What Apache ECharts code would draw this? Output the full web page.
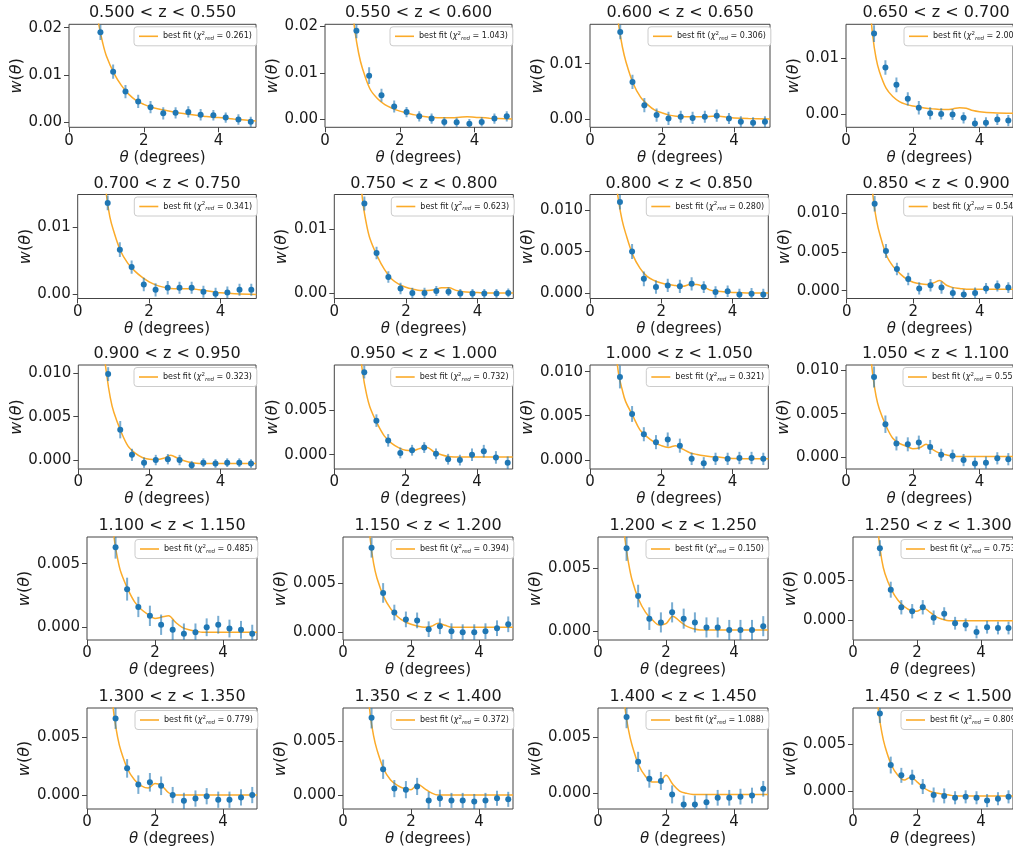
<!DOCTYPE html>
<html>
<head>
<meta charset="utf-8">
<script src="https://cdn.jsdelivr.net/npm/echarts@6/dist/echarts.min.js"></script>
<style>
  html, body { margin: 0; padding: 0; background: #ffffff; }
  #chart { width: 1013px; height: 848px; }
</style>
</head>
<body>
<div id="chart"></div>
<script>
// Redshift slice edges (one panel per slice)
const zEdges = [0.500, 0.550, 0.600, 0.650, 0.700, 0.750, 0.800, 0.850, 0.900, 0.950, 1.000,
                1.050, 1.100, 1.150, 1.200, 1.250, 1.300, 1.350, 1.400, 1.450, 1.500];

// Reduced chi-square of the best fit in each slice
const chi2Red = [0.261, 1.043, 0.306, 2.007, 0.341, 0.623, 0.280, 0.542, 0.323, 0.732,
                 0.321, 0.551, 0.485, 0.394, 0.150, 0.753, 0.779, 0.372, 1.088, 0.809];

// Angular bin centres (degrees)
const thetaBins = [0.84, 1.18, 1.51, 1.85, 2.18, 2.52, 2.85, 3.19, 3.52, 3.86, 4.19, 4.53, 4.86];

// Measured w(theta), one row per slice
const wValues = [
  [0.0190, 0.0107, 0.0065, 0.0044, 0.0032, 0.0019, 0.0020, 0.0022, 0.0016, 0.0015, 0.0010, 0.0006, 0.0001],
  [0.0190, 0.0094, 0.0052, 0.0028, 0.0016, 0.0007, 0.0002, -0.0005, -0.0006, -0.0009, -0.0005, 0.0002, 0.0007],
  [0.0157, 0.0067, 0.0025, 0.0007, 0.0001, 0.0004, 0.0002, 0.0004, 0.0006, 0.0001, -0.0005, -0.0007, -0.0005],
  [0.0144, 0.0083, 0.0052, 0.0027, 0.0011, 0.0001, 0.0000, -0.0001, -0.0007, -0.0017, -0.0016, -0.0010, -0.0012],
  [0.0136, 0.0066, 0.0040, 0.0014, 0.0006, 0.0009, 0.0009, 0.0009, 0.0003, 0.0000, 0.0002, 0.0006, 0.0006],
  [0.0141, 0.0063, 0.0025, 0.0007, 0.0000, 0.0000, 0.0003, 0.0002, -0.0001, -0.0001, -0.0001, -0.0001, 0.0000],
  [0.0110, 0.0050, 0.0017, 0.0007, 0.0009, 0.0008, 0.0011, 0.0007, 0.0001, 0.0002, -0.0002, -0.0001, -0.0002],
  [0.0112, 0.0051, 0.0028, 0.0015, 0.0003, 0.0007, 0.0004, -0.0003, -0.0005, -0.0003, 0.0003, 0.0006, 0.0004],
  [0.0099, 0.0035, 0.0006, -0.0003, 0.0000, 0.0001, 0.0000, -0.0006, -0.0003, -0.0004, -0.0003, -0.0003, -0.0004],
  [0.0092, 0.0038, 0.0016, 0.0002, 0.0005, 0.0008, 0.0001, -0.0005, -0.0006, 0.0000, 0.0004, -0.0003, -0.0009],
  [0.0094, 0.0052, 0.0029, 0.0020, 0.0023, 0.0016, 0.0001, -0.0004, 0.0001, 0.0001, 0.0002, 0.0002, 0.0001],
  [0.0092, 0.0038, 0.0016, 0.0015, 0.0017, 0.0012, 0.0003, 0.0002, -0.0003, -0.0007, -0.0006, -0.0001, -0.0002],
  [0.0063, 0.0030, 0.0016, 0.0009, 0.0002, -0.0002, -0.0005, -0.0004, 0.0000, 0.0002, -0.0001, -0.0002, -0.0005],
  [0.0086, 0.0040, 0.0020, 0.0013, 0.0012, 0.0003, 0.0006, 0.0001, 0.0000, 0.0000, 0.0001, 0.0004, 0.0008],
  [0.0066, 0.0028, 0.0010, 0.0007, 0.0015, 0.0010, 0.0007, 0.0003, 0.0003, 0.0001, 0.0001, 0.0001, 0.0004],
  [0.0090, 0.0038, 0.0016, 0.0011, 0.0016, 0.0003, 0.0008, -0.0004, -0.0006, -0.0015, -0.0009, -0.0010, -0.0010],
  [0.0066, 0.0023, 0.0009, 0.0011, 0.0008, 0.0000, -0.0005, -0.0003, -0.0001, -0.0004, -0.0004, -0.0002, 0.0000],
  [0.0072, 0.0024, 0.0006, 0.0005, 0.0008, -0.0005, -0.0003, -0.0005, -0.0005, -0.0006, -0.0005, -0.0003, -0.0004],
  [0.0068, 0.0028, 0.0013, 0.0011, -0.0001, -0.0010, -0.0010, -0.0008, -0.0004, -0.0004, -0.0003, -0.0002, 0.0004],
  [0.0083, 0.0028, 0.0017, 0.0015, 0.0005, -0.0004, -0.0005, -0.0007, -0.0006, -0.0007, -0.0010, -0.0008, -0.0006]
];

// 1-sigma uncertainties on w(theta)
const wErrors = [
  [0.0016, 0.0015, 0.0014, 0.0014, 0.0013, 0.0013, 0.0012, 0.0012, 0.0012, 0.0011, 0.0011, 0.0011, 0.0011],
  [0.0016, 0.0018, 0.0014, 0.0013, 0.0011, 0.0011, 0.0011, 0.0010, 0.0010, 0.0010, 0.0010, 0.0011, 0.0011],
  [0.0013, 0.0013, 0.0013, 0.0012, 0.0012, 0.0011, 0.0011, 0.0011, 0.0011, 0.0010, 0.0010, 0.0010, 0.0010],
  [0.0015, 0.0013, 0.0013, 0.0012, 0.0012, 0.0011, 0.0010, 0.0010, 0.0010, 0.0010, 0.0010, 0.0010, 0.0010],
  [0.0011, 0.0011, 0.0010, 0.0010, 0.0010, 0.0010, 0.0009, 0.0009, 0.0009, 0.0009, 0.0009, 0.0009, 0.0009],
  [0.0011, 0.0010, 0.0009, 0.0009, 0.0008, 0.0008, 0.0008, 0.0007, 0.0007, 0.0007, 0.0007, 0.0007, 0.0007],
  [0.0009, 0.0009, 0.0009, 0.0008, 0.0008, 0.0008, 0.0008, 0.0007, 0.0007, 0.0007, 0.0007, 0.0007, 0.0007],
  [0.0010, 0.0009, 0.0008, 0.0008, 0.0008, 0.0008, 0.0008, 0.0007, 0.0007, 0.0007, 0.0007, 0.0007, 0.0007],
  [0.0008, 0.0010, 0.0007, 0.0006, 0.0006, 0.0006, 0.0006, 0.0005, 0.0005, 0.0005, 0.0005, 0.0005, 0.0005],
  [0.0007, 0.0007, 0.0007, 0.0006, 0.0006, 0.0006, 0.0006, 0.0006, 0.0006, 0.0007, 0.0007, 0.0007, 0.0007],
  [0.0013, 0.0009, 0.0008, 0.0008, 0.0008, 0.0008, 0.0007, 0.0007, 0.0007, 0.0007, 0.0007, 0.0007, 0.0007],
  [0.0012, 0.0010, 0.0008, 0.0008, 0.0008, 0.0008, 0.0007, 0.0007, 0.0007, 0.0007, 0.0007, 0.0007, 0.0007],
  [0.0009, 0.0009, 0.0008, 0.0008, 0.0008, 0.0008, 0.0008, 0.0007, 0.0007, 0.0007, 0.0007, 0.0007, 0.0007],
  [0.0010, 0.0010, 0.0008, 0.0008, 0.0008, 0.0008, 0.0008, 0.0008, 0.0008, 0.0008, 0.0008, 0.0008, 0.0008],
  [0.0010, 0.0009, 0.0009, 0.0008, 0.0008, 0.0008, 0.0008, 0.0008, 0.0008, 0.0008, 0.0008, 0.0008, 0.0008],
  [0.0010, 0.0010, 0.0009, 0.0009, 0.0009, 0.0009, 0.0008, 0.0008, 0.0008, 0.0008, 0.0008, 0.0008, 0.0008],
  [0.0009, 0.0008, 0.0008, 0.0008, 0.0008, 0.0007, 0.0007, 0.0007, 0.0007, 0.0007, 0.0007, 0.0007, 0.0007],
  [0.0010, 0.0009, 0.0008, 0.0008, 0.0008, 0.0008, 0.0008, 0.0007, 0.0007, 0.0007, 0.0007, 0.0007, 0.0007],
  [0.0010, 0.0009, 0.0008, 0.0008, 0.0008, 0.0008, 0.0008, 0.0007, 0.0007, 0.0007, 0.0007, 0.0007, 0.0007],
  [0.0010, 0.0009, 0.0008, 0.0008, 0.0008, 0.0008, 0.0008, 0.0007, 0.0007, 0.0007, 0.0007, 0.0007, 0.0007]
];

// Angles at which the best-fit model curve is sampled (degrees)
const fitTheta = [0.6, 0.7, 0.8, 0.9, 1.0, 1.2, 1.4, 1.6, 1.8, 2.0, 2.2, 2.4, 2.6, 2.8, 3.0, 3.2, 3.4, 3.6, 3.8, 4.0, 4.4, 5.0];

// Best-fit model w(theta) at fitTheta, one row per slice
const fitValues = [
  [0.0340, 0.0260, 0.0205, 0.0168, 0.0140, 0.0104, 0.0078, 0.0059, 0.0046, 0.0038, 0.0032, 0.0028, 0.0025, 0.0022, 0.0019, 0.0017, 0.0015, 0.0013, 0.0011, 0.0010, 0.0007, 0.0003],
  [0.0360, 0.0260, 0.0190, 0.0142, 0.0110, 0.0066, 0.0045, 0.0032, 0.0024, 0.0018, 0.0014, 0.0010, 0.0007, 0.0005, 0.0004, 0.0004, 0.0004, 0.0005, 0.0006, 0.0005, 0.0003, 0.0001],
  [0.0320, 0.0220, 0.0168, 0.0130, 0.0103, 0.0064, 0.0040, 0.0026, 0.0016, 0.0011, 0.0007, 0.0005, 0.0004, 0.0004, 0.0004, 0.0004, 0.0005, 0.0005, 0.0003, 0.0002, 0.0001, 0.0000],
  [0.0350, 0.0210, 0.0140, 0.0100, 0.0076, 0.0046, 0.0031, 0.0022, 0.0017, 0.0014, 0.0012, 0.0010, 0.0009, 0.0008, 0.0008, 0.0009, 0.0011, 0.0010, 0.0006, 0.0004, 0.0002, 0.0001],
  [0.0320, 0.0210, 0.0150, 0.0115, 0.0095, 0.0064, 0.0046, 0.0034, 0.0025, 0.0018, 0.0013, 0.0010, 0.0008, 0.00075, 0.00075, 0.00075, 0.0006, 0.00045, 0.0003, 0.00015, 0.0000, -0.0001],
  [0.0300, 0.0200, 0.0142, 0.0108, 0.0085, 0.0058, 0.0037, 0.0022, 0.0014, 0.0009, 0.0006, 0.0004, 0.0004, 0.0005, 0.0008, 0.0008, 0.0004, 0.0002, 0.0001, 0.00005, 0.0000, 0.0000],
  [0.0250, 0.0145, 0.0112, 0.0088, 0.0072, 0.0046, 0.0030, 0.0020, 0.0015, 0.0012, 0.0010, 0.0009, 0.0008, 0.0010, 0.0010, 0.0007, 0.0003, 0.0002, 0.0001, 0.00005, 0.0000, 0.0000],
  [0.0280, 0.0170, 0.0118, 0.0090, 0.0072, 0.0045, 0.0031, 0.0022, 0.0015, 0.0011, 0.0009, 0.0008, 0.0010, 0.0013, 0.0007, 0.0004, 0.0003, 0.0002, 0.0002, 0.0002, 0.0002, 0.0002],
  [0.0250, 0.0135, 0.0098, 0.0072, 0.0055, 0.0033, 0.0016, 0.0008, 0.0003, 0.0001, 0.00005, 0.0002, 0.00055, 0.0002, -0.0001, -0.0003, -0.0004, -0.0004, -0.0004, -0.0004, -0.0004, -0.0004],
  [0.0220, 0.0125, 0.0090, 0.0068, 0.0053, 0.0035, 0.0021, 0.0013, 0.0008, 0.0005, 0.00045, 0.0007, 0.0008, 0.0003, 0.0000, -0.0002, -0.00025, -0.00026, -0.00026, -0.00026, -0.00026, -0.00026],
  [0.0220, 0.0135, 0.0098, 0.0080, 0.0066, 0.0050, 0.0034, 0.0026, 0.0020, 0.0016, 0.0014, 0.0016, 0.0012, 0.0008, 0.0006, 0.00045, 0.00035, 0.0003, 0.0002, 0.00015, 0.0001, 0.0001],
  [0.0220, 0.0135, 0.0095, 0.0070, 0.0055, 0.0036, 0.0022, 0.0016, 0.0013, 0.0010, 0.0011, 0.0015, 0.0009, 0.0005, 0.0003, 0.00015, 0.0001, 0.0001, 0.0001, 0.0001, 0.0001, 0.0001],
  [0.0160, 0.0100, 0.0070, 0.0054, 0.0043, 0.0030, 0.0020, 0.0014, 0.0010, 0.0007, 0.0008, 0.0009, 0.0004, 0.0000, -0.0002, -0.0003, -0.0004, -0.0004, -0.0004, -0.0004, -0.0004, -0.0004],
  [0.0220, 0.0140, 0.0095, 0.0070, 0.0055, 0.0036, 0.0024, 0.0016, 0.0011, 0.0008, 0.0006, 0.0005, 0.0006, 0.0009, 0.0007, 0.0005, 0.0005, 0.0005, 0.0005, 0.0005, 0.0005, 0.0005],
  [0.0170, 0.0100, 0.0072, 0.0054, 0.0041, 0.0025, 0.0015, 0.0009, 0.0005, 0.0006, 0.0012, 0.0008, 0.0004, 0.0002, 0.0001, 0.0001, 0.0001, 0.0001, 0.0001, 0.0001, 0.0001, 0.0001],
  [0.0300, 0.0160, 0.0105, 0.0075, 0.0058, 0.0038, 0.0025, 0.0017, 0.0012, 0.0011, 0.0015, 0.0010, 0.0004, 0.0001, -0.0001, -0.0001, -0.0001, -0.0001, -0.0001, -0.0001, -0.0001, -0.0001],
  [0.0160, 0.0095, 0.0068, 0.0050, 0.0038, 0.0022, 0.0013, 0.0008, 0.0006, 0.0010, 0.0008, 0.0002, 0.0000, 0.0000, 0.0000, 0.0000, 0.0000, 0.0000, 0.0000, 0.0000, 0.0000, 0.0000],
  [0.0180, 0.0110, 0.0075, 0.0055, 0.0042, 0.0024, 0.0014, 0.0009, 0.0006, 0.0005, 0.0010, 0.0006, 0.0002, 0.0000, 0.0000, 0.0000, 0.0000, 0.0000, 0.0000, 0.0000, 0.0000, 0.0000],
  [0.0180, 0.0110, 0.0075, 0.0056, 0.0043, 0.0025, 0.0015, 0.0010, 0.0010, 0.0016, 0.0008, 0.0002, 0.0000, -0.0001, -0.0001, -0.0001, -0.0001, -0.0001, -0.0001, -0.0001, -0.0001, -0.0001],
  [0.0200, 0.0120, 0.0085, 0.0063, 0.0048, 0.0028, 0.0017, 0.0012, 0.0015, 0.0010, 0.0004, 0.0000, -0.0002, -0.0003, -0.0004, -0.0005, -0.0005, -0.0005, -0.0005, -0.0005, -0.0005, -0.0005]
];

// y-axis extent and tick values per panel
const yMin = [-0.00105, -0.00166, -0.0015, -0.0024, -0.0007, -0.00088, -0.00068, -0.0010, -0.00103, -0.00159, -0.00105, -0.00132,
              -0.0010, -0.0008, -0.0007, -0.0025, -0.0012, -0.0013, -0.0014, -0.0019];
const yMax = [0.0207, 0.0204, 0.0171, 0.01605, 0.01486, 0.01552, 0.0119, 0.01238, 0.01095, 0.0100, 0.01076, 0.01057,
              0.0071, 0.0097, 0.0075, 0.0104, 0.0075, 0.0081, 0.0076, 0.0089];
const yTicks = [
  [0, 0.01, 0.02], [0, 0.01, 0.02], [0, 0.01], [0, 0.01],
  [0, 0.01], [0, 0.01], [0, 0.005, 0.01], [0, 0.005, 0.01],
  [0, 0.005, 0.01], [0, 0.005], [0, 0.005, 0.01], [0, 0.005, 0.01],
  [0, 0.005], [0, 0.005], [0, 0.005], [0, 0.005],
  [0, 0.005], [0, 0.005], [0, 0.005], [0, 0.005]
];
const yDecimals = [2, 2, 2, 2, 2, 2, 3, 3, 3, 3, 3, 3, 3, 3, 3, 3, 3, 3, 3, 3];
const xTicks = [0, 2, 4];

// Panel placement in pixels
const rowTop = [24.3, 194.5, 365, 537, 708];
const rowHeight = [103, 104, 104, 103, 103];
const panelLeft = [
  [69, 325, 590, 846],
  [77.7, 334.3, 590, 846.7],
  [78.3, 334.3, 590, 846],
  [87, 343, 598, 853],
  [87, 343, 598, 853]
];
const panelWidth = [
  [187, 187, 180, 180],
  [178.6, 179, 178.3, 179],
  [177.7, 178.4, 178.3, 179],
  [170, 170, 170, 170],
  [170, 170, 170, 170]
];

const FONT = 'DejaVu Sans';
const INK = '#1a1a1a';
const FRAME = '#444';
const BLUE = '#1f77b4';
const ORANGE = '#fbab2a';

const chart = echarts.init(document.getElementById('chart'), null, { renderer: 'canvas' });

const grids = [], xAxes = [], yAxes = [], titles = [], legends = [], series = [];

for (let i = 0; i < 20; i++) {
  const r = Math.floor(i / 4), c = i % 4;
  const left = panelLeft[r][c], width = panelWidth[r][c];
  const top = rowTop[r], height = rowHeight[r];
  const dec = yDecimals[i];

  grids.push({ left: left, top: top, width: width, height: height,
               show: true, borderColor: FRAME, borderWidth: 1, backgroundColor: 'transparent' });

  titles.push({
    text: zEdges[i].toFixed(3) + ' < z < ' + zEdges[i + 1].toFixed(3),
    left: left + width / 2, top: top - 19, textAlign: 'center', padding: 0,
    textStyle: { fontFamily: FONT, fontSize: 16, fontWeight: 'normal', color: INK }
  });

  xAxes.push({
    gridIndex: i, type: 'value', min: 0, max: 5,
    axisLine: { show: false, onZero: false }, splitLine: { show: false },
    axisTick: { show: true, customValues: xTicks, length: 5, lineStyle: { color: FRAME } },
    axisLabel: { customValues: xTicks, fontFamily: FONT, fontSize: 15, color: INK, margin: 6 },
    name: '{it|θ} (degrees)', nameLocation: 'middle', nameGap: 23,
    nameTextStyle: { fontFamily: FONT, fontSize: 15, color: INK,
      rich: { it: { fontFamily: FONT, fontSize: 15, fontStyle: 'italic', color: INK } } }
  });

  yAxes.push({
    gridIndex: i, type: 'value', min: yMin[i], max: yMax[i],
    axisLine: { show: false, onZero: false }, splitLine: { show: false },
    axisTick: { show: true, customValues: yTicks[i], length: 5, lineStyle: { color: FRAME } },
    axisLabel: { customValues: yTicks[i], fontFamily: FONT, fontSize: 15, color: INK, margin: 7,
                 formatter: v => Number(v).toFixed(dec) },
    name: '{it|w}({it|θ})', nameLocation: 'middle', nameRotate: 90,
    nameGap: dec === 2 ? 38 : 47,
    nameTextStyle: { fontFamily: FONT, fontSize: 16, color: INK,
      rich: { it: { fontFamily: FONT, fontSize: 16, fontStyle: 'italic', color: INK } } }
  });

  const fitName = 'fit' + i;
  legends.push({
    data: [{ name: fitName, icon: 'rect' }],
    left: left + width - 122, top: top + 2.5,
    orient: 'vertical', itemWidth: 19, itemHeight: 1.6, itemGap: 0,
    padding: [4, 5, 4, 5], backgroundColor: '#ffffff',
    borderColor: '#cccccc', borderWidth: 1, borderRadius: 3,
    selectedMode: false,
    formatter: () => 'best fit ({g|χ}{sp|2}{sb|red} = ' + chi2Red[i].toFixed(3) + ')',
    textStyle: { fontFamily: FONT, fontSize: 8, color: INK, lineHeight: 11,
      rich: {
        g: { fontFamily: FONT, fontSize: 8, fontStyle: 'italic', color: INK, lineHeight: 11 },
        sp: { fontFamily: FONT, fontSize: 5.5, color: INK, verticalAlign: 'top', lineHeight: 11 },
        sb: { fontFamily: FONT, fontSize: 5.5, fontStyle: 'italic', color: INK, verticalAlign: 'bottom', lineHeight: 11 }
      } }
  });

  // best-fit model curve
  series.push({
    name: fitName, type: 'line', xAxisIndex: i, yAxisIndex: i,
    data: fitTheta.map((t, k) => [t, fitValues[i][k]]),
    smooth: 0.35, symbol: 'none', clip: true, z: 1,
    lineStyle: { color: ORANGE, width: 1.5 }, itemStyle: { color: ORANGE },
    silent: true, animation: false
  });

  // vertical error bars
  series.push({
    type: 'custom', xAxisIndex: i, yAxisIndex: i, clip: true, z: 2,
    data: thetaBins.map((t, k) => [t, wValues[i][k], wErrors[i][k]]),
    renderItem: (params, api) => {
      const x = api.value(0), y = api.value(1), e = api.value(2);
      const p1 = api.coord([x, y - e]);
      const p2 = api.coord([x, y + e]);
      return { type: 'line', shape: { x1: p1[0], y1: p1[1], x2: p2[0], y2: p2[1] },
               style: { stroke: 'rgba(31,119,180,0.6)', lineWidth: 2 } };
    },
    silent: true, animation: false
  });

  // measured points
  series.push({
    type: 'scatter', xAxisIndex: i, yAxisIndex: i, z: 3,
    data: thetaBins.map((t, k) => [t, wValues[i][k]]),
    symbol: 'circle', symbolSize: 6, itemStyle: { color: BLUE, opacity: 1 },
    silent: true, animation: false
  });
}

chart.setOption({
  animation: false,
  backgroundColor: '#ffffff',
  title: titles,
  legend: legends,
  grid: grids,
  xAxis: xAxes,
  yAxis: yAxes,
  series: series
});
</script>
</body>
</html>
